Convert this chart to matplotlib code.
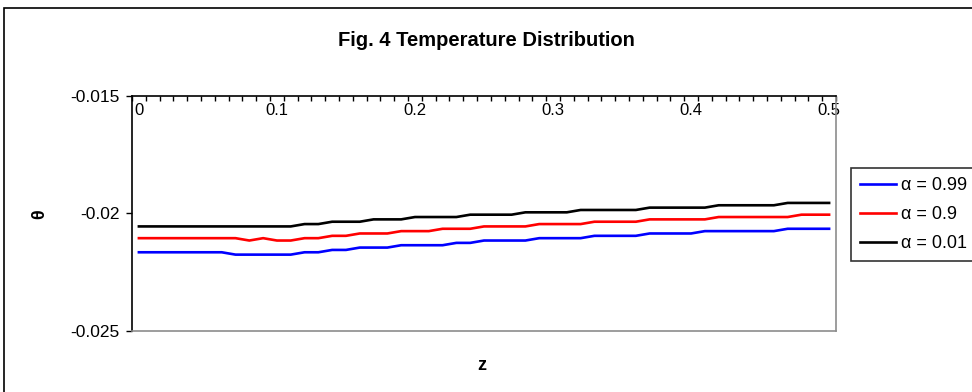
import matplotlib.pyplot as plt
from matplotlib.patches import Rectangle
from matplotlib.ticker import FixedLocator

plt.rcParams['font.family'] = ['Liberation Sans', 'DejaVu Sans']

# ---------------- data ----------------
z = [round(0.01 * i, 2) for i in range(51)]

theta_099 = ([-0.02165] * 7 + [-0.02175] * 5 + [-0.02165] * 2 + [-0.02155] * 2
             + [-0.02145] * 3 + [-0.02135] * 4 + [-0.02125] * 2 + [-0.02115] * 4
             + [-0.02105] * 4 + [-0.02095] * 4 + [-0.02085] * 4 + [-0.02075] * 6
             + [-0.02065] * 4)
theta_09 = ([-0.02105] * 8 + [-0.02115] + [-0.02105] + [-0.02115] * 2
            + [-0.02105] * 2 + [-0.02095] * 2 + [-0.02085] * 3 + [-0.02075] * 3
            + [-0.02065] * 3 + [-0.02055] * 4 + [-0.02045] * 4 + [-0.02035] * 4
            + [-0.02025] * 5 + [-0.02015] * 6 + [-0.02005] * 3)
theta_001 = ([-0.02055] * 12 + [-0.02045] * 2 + [-0.02035] * 3 + [-0.02025] * 3
             + [-0.02015] * 4 + [-0.02005] * 4 + [-0.01995] * 4 + [-0.01985] * 5
             + [-0.01975] * 5 + [-0.01965] * 5 + [-0.01955] * 4)

series = [theta_099, theta_09, theta_001]
labels = ['\u03b1 = 0.99', '\u03b1 = 0.9', '\u03b1 = 0.01']
colors = ['#0000ff', '#ff0000', '#000000']

# ---------------- figure ----------------
W, H = 972, 392
fig = plt.figure(figsize=(W / 100, H / 100), dpi=100)
ax = fig.add_axes([132 / W, 1 - 331 / H, (836 - 132) / W, (331 - 96) / H])

for y, lab, col in zip(series, labels, colors):
    ax.plot(z, y, color=col, lw=1.9, label=lab, solid_joinstyle='round')

# category style x axis: points centred in slots, ticks between slots
ax.set_xlim(-0.005, 0.505)
ax.set_ylim(-0.025, -0.015)
ax.xaxis.set_major_locator(FixedLocator([0, 0.1, 0.2, 0.3, 0.4, 0.5]))
ax.xaxis.set_major_formatter(plt.FuncFormatter(lambda v, p: ('%g' % v)))
ax.xaxis.set_minor_locator(FixedLocator([-0.005 + 0.01 * k for k in range(52)]))
ax.xaxis.set_ticks_position('top')
ax.tick_params(axis='x', which='major', length=0, labeltop=True,
               labelbottom=False, pad=-16, labelsize=12)
ax.tick_params(axis='x', which='minor', direction='in', length=3.5, width=1,
               top=True, bottom=False)

ax.set_yticks([-0.025, -0.02, -0.015])
ax.set_yticklabels(['-0.025', '-0.02', '-0.015'])
ax.tick_params(axis='y', direction='out', length=4, width=1, labelsize=12.5, pad=5)

for s in ['left', 'top']:
    ax.spines[s].set_color('black')
    ax.spines[s].set_linewidth(1.2)
for s in ['right', 'bottom']:
    ax.spines[s].set_color('#8c8c8c')
    ax.spines[s].set_linewidth(1.2)

fig.text(486 / W, 1 - 40 / H, 'Fig. 4 Temperature Distribution',
         ha='center', va='center', fontsize=14.5, fontweight='bold')
fig.text(40 / W, 1 - 214 / H, '\u03b8', ha='center', va='center',
         rotation=90, fontsize=13, fontweight='bold')
fig.text(482 / W, 1 - 365 / H, 'z', ha='center', va='center',
         fontsize=13, fontweight='bold')

leg = fig.legend(loc='upper left', bbox_to_anchor=(851 / W, 1 - 168 / H),
                 borderaxespad=0, fancybox=False, frameon=True, fontsize=13,
                 handlelength=2.0, handletextpad=0.25, labelspacing=0.66,
                 borderpad=0.5)
leg.get_frame().set_edgecolor('black')
leg.get_frame().set_linewidth(1.2)

# outer chart border
fig.patches.append(Rectangle((4 / W, -0.1), 1.2, 1 - 8 / H + 0.1,
                             transform=fig.transFigure, fill=False,
                             edgecolor='black', lw=1.2))

fig.savefig('out.png', dpi=100)
